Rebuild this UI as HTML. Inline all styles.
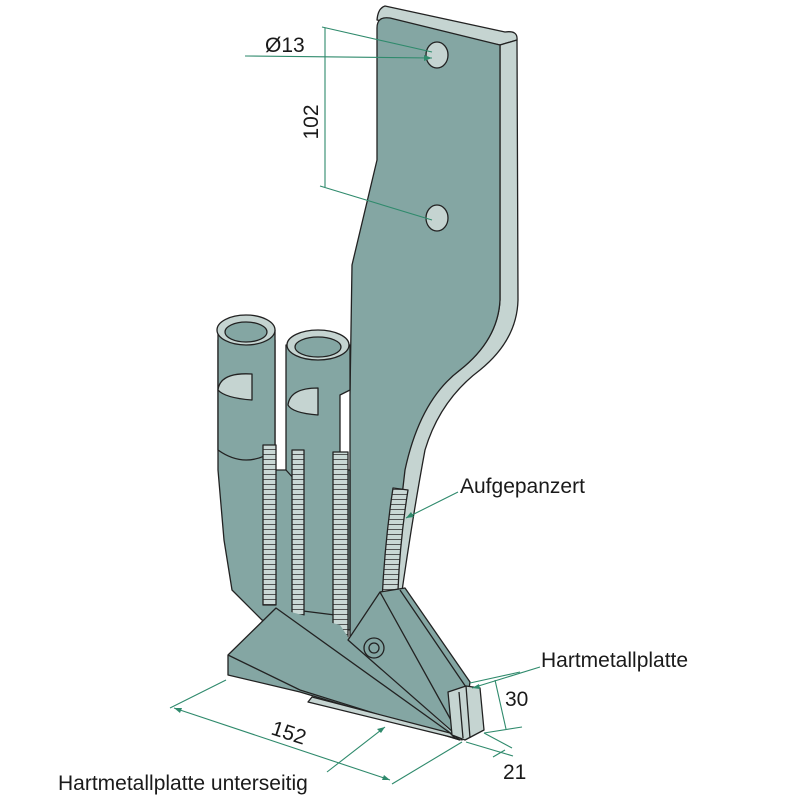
<!DOCTYPE html>
<html><head><meta charset="utf-8"><style>
html,body{margin:0;padding:0;background:#fff}
svg{display:block}
text{font-family:"Liberation Sans",sans-serif;fill:#1a1a1a}
</style></head><body>
<svg width="800" height="800" viewBox="0 0 800 800" xmlns="http://www.w3.org/2000/svg">
<defs>
<pattern id="weld" width="10" height="5" patternUnits="userSpaceOnUse">
<rect width="10" height="5" fill="#c9d8d5"/><line x1="0" y1="4.5" x2="10" y2="4.5" stroke="#333" stroke-width="0.8"/>
</pattern>
</defs>
<g stroke="#222" stroke-width="1.3" stroke-linejoin="round">
<path d="M385,6 Q378,8 377,20 L500,45 L517,40 Q518,30 505,32 Z" fill="#c5d4d1"/>
<path d="M500,45 L517,40 L518,300 Q517,340 480,370 Q440,400 425,450 Q412,520 400,605 L385,600 L400,470 Q420,400 460,370 Q498,340 500,300 Z" fill="#c5d4d1"/>
<path d="M390,18 L500,45 L500,300 Q498,340 460,370 Q420,400 405,470 L390,600 L350,640 L350,395 L352,265 L377,160 L377,28 Q377,16 390,18 Z" fill="#84a6a3"/>
<ellipse cx="437" cy="55" rx="11" ry="13" fill="#c5d4d1"/>
<ellipse cx="437" cy="218" rx="11" ry="13" fill="#c5d4d1"/>
<path d="M218,340 L218,470 L224,540 L232,590 L262,620 L350,630 L350,470 L275,470 L275,340 Z" fill="#84a6a3"/>
<path d="M218,330 L218,450 Q246,470 275,450 L275,330 Z" fill="#84a6a3"/>
<ellipse cx="246" cy="330" rx="29" ry="15" fill="#c5d4d1"/>
<ellipse cx="246" cy="332" rx="21" ry="10" fill="#84a6a3"/>
<path d="M218,390 Q220,372 252,374 L252,400 Q225,398 218,390 Z" fill="#c5d4d1"/>
<path d="M286,345 L286,470 L295,480 L295,610 L335,615 L340,460 L340,395 L350,390 L350,345 Z" fill="#84a6a3"/>
<ellipse cx="318" cy="345" rx="31" ry="15" fill="#c5d4d1"/>
<ellipse cx="318" cy="347" rx="23" ry="10" fill="#84a6a3"/>
<path d="M288,405 Q290,388 318,388 L318,415 Q292,413 288,405 Z" fill="#c5d4d1"/>
<rect x="263" y="445" width="13" height="160" fill="url(#weld)"/>
<rect x="292" y="450" width="12" height="165" fill="url(#weld)"/>
<rect x="333" y="452" width="15" height="190" fill="url(#weld)"/>
<path d="M393,488 L408,490 Q400,540 398,590 L382,600 Q385,540 393,488 Z" fill="url(#weld)"/>
<!-- fill between shares -->
<path d="M276,608 L340,625 L350,640 L460,740 Z" fill="#84a6a3" stroke="none"/>
<path d="M348,640 L380,592 L405,588 L470,682 L462,740 Z" fill="#84a6a3"/>
<path d="M380,592 L462,740 M400,590 L468,690" fill="none"/>
<circle cx="374" cy="648" r="10" fill="#84a6a3"/><circle cx="374" cy="648" r="5" fill="#84a6a3"/>
<path d="M228,655 L276,608 L460,740 L300,692 L228,675 Z" fill="#84a6a3"/>
<path d="M228,655 L300,690 L460,740" fill="none"/>
<path d="M308,702 L455,738 L450,733 L312,697 Z" fill="#c5d4d1"/>
<path d="M448,692 L466,686 L480,688 L484,730 L465,740 L452,735 Z" fill="#c5d4d1"/>
<path d="M466,686 L470,738 M459,692 L463,738" fill="none"/>
</g>
<g stroke="#2f8a6c" stroke-width="1.1" fill="none">
<line x1="245" y1="56" x2="432" y2="58"/>
<line x1="322" y1="27" x2="432" y2="52"/>
<line x1="325" y1="28" x2="325" y2="187"/>
<line x1="320" y1="186" x2="432" y2="220"/>
<line x1="458" y1="492" x2="406" y2="518"/>
<line x1="226" y1="680" x2="170" y2="708"/>
<line x1="462" y1="742" x2="392" y2="784"/>
<line x1="174" y1="708" x2="390" y2="780"/>
<line x1="327" y1="772" x2="385" y2="727"/>
<line x1="540" y1="667" x2="472" y2="688"/>
<line x1="470" y1="683" x2="520" y2="672"/>
<line x1="484" y1="733" x2="522" y2="727"/>
<line x1="495" y1="680" x2="506" y2="729"/>
<line x1="466" y1="742" x2="513" y2="756"/>
<line x1="484" y1="733" x2="512" y2="748"/>
<line x1="493" y1="757" x2="505" y2="750"/>
</g>
<g fill="#2f8a6c">
<path d="M432,58 l-8,-3 l0,6 Z"/>
<path d="M406,518 l8,-1 l-3,-5 Z"/>
<path d="M174,708 l8,0 l-2,5 Z"/>
<path d="M390,780 l-8,0 l2,-5 Z"/>
<path d="M385,727 l-8,2 l4,4 Z"/>
<path d="M472,688 l7,-4 l1,5 Z"/>
</g>
<text x="265" y="52" font-size="21">Ø13</text>
<text transform="translate(318,122) rotate(-90)" font-size="21" text-anchor="middle">102</text>
<text x="460" y="493" font-size="21">Aufgepanzert</text>
<text x="541" y="667" font-size="21">Hartmetallplatte</text>
<text x="505" y="706" font-size="21">30</text>
<text x="503" y="779" font-size="21">21</text>
<text transform="translate(270,734) rotate(18)" font-size="21">152</text>
<text x="58" y="790" font-size="21">Hartmetallplatte unterseitig</text>
</svg>
</body></html>
